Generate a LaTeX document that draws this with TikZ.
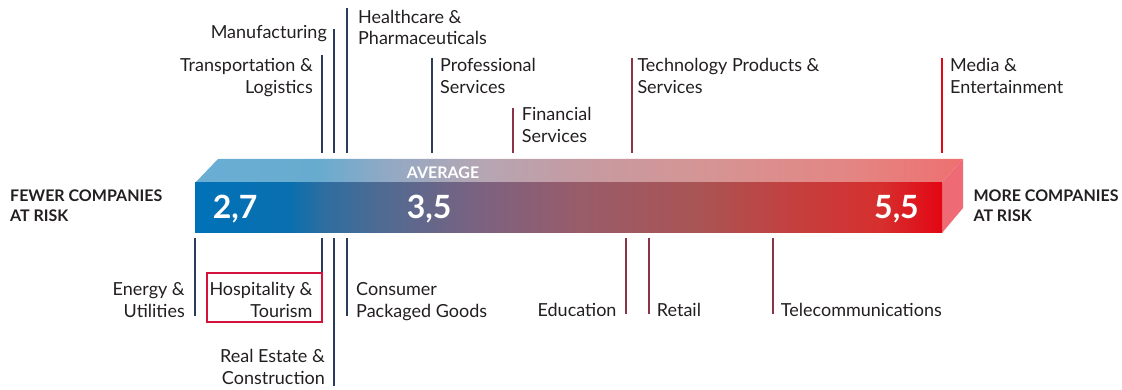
\documentclass[tikz,border=0pt]{standalone}
\usepackage{fontspec}
\setmainfont{Lato}
\definecolor{navy}{HTML}{2B3B5C}
\definecolor{maroon}{HTML}{8C3348}
\definecolor{mediared}{HTML}{E30613}
\definecolor{boxred}{HTML}{D2143C}
\definecolor{txt}{HTML}{231F20}
\definecolor{sideface}{HTML}{EE6B75}
% front face of the bar, 25bp..75bp = left..right
\pgfdeclarehorizontalshading{frontshade}{100bp}{%
	rgb(0bp)=(0,0.447,0.722); rgb(25bp)=(0,0.447,0.722);
	rgb(31.4bp)=(0.039,0.435,0.682); rgb(33.6bp)=(0.180,0.431,0.627);
	rgb(37.9bp)=(0.325,0.416,0.569); rgb(44.1bp)=(0.486,0.384,0.502);
	rgb(50.6bp)=(0.596,0.361,0.416); rgb(58.9bp)=(0.667,0.329,0.329);
	rgb(65.6bp)=(0.776,0.243,0.239); rgb(70.9bp)=(0.839,0.184,0.180);
	rgb(75bp)=(0.890,0.024,0.075); rgb(100bp)=(0.890,0.024,0.075)}
% top face of the bar
\pgfdeclarehorizontalshading{topshade}{100bp}{%
	rgb(0bp)=(0.416,0.682,0.835); rgb(25bp)=(0.416,0.682,0.835);
	rgb(33.1bp)=(0.408,0.671,0.812); rgb(37.7bp)=(0.576,0.663,0.765);
	rgb(43.6bp)=(0.710,0.651,0.702); rgb(50.1bp)=(0.773,0.608,0.635);
	rgb(57.9bp)=(0.835,0.584,0.584); rgb(67.6bp)=(0.890,0.525,0.514);
	rgb(75bp)=(0.933,0.439,0.439); rgb(100bp)=(0.933,0.439,0.439)}
\begin{document}
\begin{tikzpicture}[x=1pt, y=-1pt,
		lbl/.style={font=\fontsize{18}{21.5}\selectfont, inner sep=0, text=txt},
		side/.style={font=\fontsize{16}{20}\selectfont\bfseries, inner sep=0, text=txt, align=left},
		num/.style={font=\fontsize{32}{36}\selectfont\bfseries, inner sep=0, text=white},
		tick/.style={line width=2pt}]
	\useasboundingbox (0,0) rectangle (1122,390);

	% the bar
	\shade[shading=topshade] (195,183) -- (218,159) -- (963,159) -- (942,183) -- cycle;
	\fill[sideface] (942,183) -- (963,159) -- (963,208) -- (942,233) -- cycle;
	\shade[shading=frontshade] (195,183) rectangle (942,233);

	\node[num, anchor=base west] (low) at (212.7,218.3) {2,7};
	\node[num, anchor=base west] (avg) at (406.7,218.3) {3,5};
	\node[num, anchor=base east] (high) at (919,218.3) {5,5};
	\node[font=\fontsize{16}{18}\selectfont\bfseries, inner sep=0, text=white, anchor=base west] (avglbl) at (406.7,178.3) {AVERAGE};

	% multi-line nodes sit on the baseline of their last line
	\node[side, anchor=base west] (fewer) at (10,221.7) {FEWER COMPANIES\\AT RISK};
	\node[side, anchor=base west] (more) at (973.3,221.7) {MORE COMPANIES\\AT RISK};

	% ticks above and below
	\foreach \x/\y/\c in {322/55/navy, 334/29/navy, 347/8/navy, 432/58/navy, 513/108/maroon, 632/58/maroon, 942/58/mediared}
		{
			\draw[tick, \c] (\x,\y) -- (\x,153);
		}
	\foreach \x/\y/\c in {195/316/navy, 322/273/navy, 334/386/navy, 347/316/navy, 626/314/maroon, 649/314/maroon, 773/314/maroon}
		{
			\draw[tick, \c] (\x,238) -- (\x,\y);
		}
	\draw[boxred, line width=1.8pt] (207,273) rectangle (322,322);

	% sectors above
	\node[lbl, anchor=base east] (manu) at (327,39) {Manufacturing};
	\node[lbl, anchor=base west, align=left] (health) at (358,45) {Healthcare \&\\Pharmaceuticals};
	\node[lbl, anchor=base east, align=right] (trans) at (313,93.2) {Transportation \&\\Logistics};
	\node[lbl, anchor=base west, align=left] (prof) at (440,93.2) {Professional\\Services};
	\node[lbl, anchor=base west, align=left] (fin) at (521.7,142.2) {Financial\\Services};
	\node[lbl, anchor=base west, align=left] (tech) at (637.3,93.2) {Technology Products \&\\Services};
	\node[lbl, anchor=base west, align=left] (media) at (950,93.2) {Media \&\\Entertainment};

	% sectors below
	\node[lbl, anchor=base east, align=right] (energy) at (185,317) {Energy \&\\Utilities};
	\node[lbl, anchor=base east, align=right] (hosp) at (312.7,317) {Hospitality \&\\Tourism};
	\node[lbl, anchor=base east, align=right] (estate) at (325,384) {Real Estate \&\\Construction};
	\node[lbl, anchor=base west, align=left] (cpg) at (356,317) {Consumer\\Packaged Goods};
	\node[lbl, anchor=base east] (edu) at (616.7,316) {Education};
	\node[lbl, anchor=base west] (retail) at (656.7,316) {Retail};
	\node[lbl, anchor=base west] (tele) at (780.7,316) {Telecommunications};
\end{tikzpicture}
\end{document}
